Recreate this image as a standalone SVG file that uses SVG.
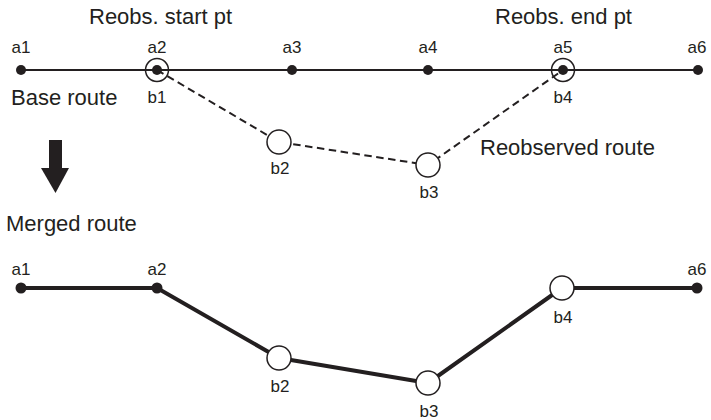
<svg xmlns="http://www.w3.org/2000/svg" width="711" height="420" viewBox="0 0 711 420">
<style>
text{font-family:"Liberation Sans",Arial,sans-serif;fill:#231f20}
.big{font-size:22px}
.sm{font-size:17px;text-anchor:middle}
.dot{fill:#231f20}
.ring{fill:#fff;stroke:#231f20;stroke-width:1.5}
.ringo{fill:none;stroke:#231f20;stroke-width:1.5}
.base{stroke:#231f20;stroke-width:2;fill:none}
.reobs{stroke:#231f20;stroke-width:2;fill:none;stroke-dasharray:7.5 4.5}
.merged{stroke:#231f20;stroke-width:4;fill:none;stroke-linejoin:round}
</style>
<rect width="711" height="420" fill="#fff"/>
<g id="connectors">
<polyline class="base" points="21,70 698,70"/>
<polyline class="reobs" points="157,70 279,142 428,165 563,70"/>
<polyline class="merged" points="21,288 157,288 279,358 428,383 562,288 697,288"/>
</g>
<g id="labels">
<text class="big" x="89" y="24">Reobs. start pt</text>
<text class="big" x="495" y="24">Reobs. end pt</text>
<text class="big" x="11" y="105">Base route</text>
<text class="big" x="480" y="155">Reobserved route</text>
<text class="big" x="6" y="231">Merged route</text>
</g>
<g id="arrow">
<rect x="49" y="140" width="13" height="29" fill="#231f20"/>
<polygon points="41,168 69,168 55.5,193" fill="#231f20"/>
</g>
<g id="top-a1"><circle class="dot" cx="21" cy="70" r="5"/><text class="sm" x="21" y="53">a1</text></g>
<g id="top-a2"><circle class="dot" cx="157" cy="70" r="5"/><circle class="ringo" cx="157" cy="70" r="11.5"/><text class="sm" x="157" y="53">a2</text><text class="sm" x="157" y="103">b1</text></g>
<g id="top-a3"><circle class="dot" cx="292" cy="70" r="5"/><text class="sm" x="292" y="53">a3</text></g>
<g id="top-a4"><circle class="dot" cx="428" cy="70" r="5"/><text class="sm" x="428" y="53">a4</text></g>
<g id="top-a5"><circle class="dot" cx="563" cy="70" r="5"/><circle class="ringo" cx="563" cy="70" r="11.5"/><text class="sm" x="563" y="53">a5</text><text class="sm" x="563" y="103">b4</text></g>
<g id="top-a6"><circle class="dot" cx="698" cy="70" r="5"/><text class="sm" x="697" y="53">a6</text></g>
<g id="top-b2"><circle class="ring" cx="279" cy="142" r="12"/><text class="sm" x="280" y="174">b2</text></g>
<g id="top-b3"><circle class="ring" cx="428" cy="165" r="12"/><text class="sm" x="429" y="198">b3</text></g>
<g id="bot-a1"><circle class="dot" cx="21" cy="288" r="5.5"/><text class="sm" x="21" y="275">a1</text></g>
<g id="bot-a2"><circle class="dot" cx="157" cy="288" r="5.5"/><text class="sm" x="157" y="275">a2</text></g>
<g id="bot-b2"><circle class="ring" cx="279" cy="358" r="12"/><text class="sm" x="280" y="392">b2</text></g>
<g id="bot-b3"><circle class="ring" cx="428" cy="383" r="12"/><text class="sm" x="429" y="417">b3</text></g>
<g id="bot-b4"><circle class="ring" cx="562" cy="288" r="12"/><text class="sm" x="563" y="323">b4</text></g>
<g id="bot-a6"><circle class="dot" cx="697" cy="288" r="5.5"/><text class="sm" x="697" y="275">a6</text></g>
</svg>
